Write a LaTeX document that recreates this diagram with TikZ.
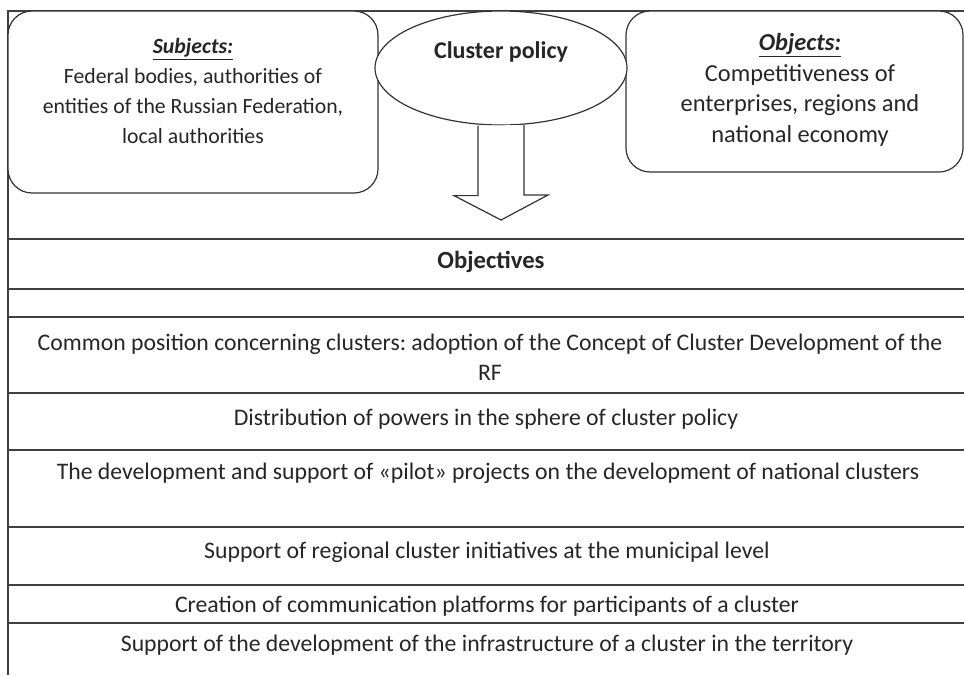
\documentclass[tikz,border=0pt]{standalone}
\usepackage{fontspec}
\setmainfont{Carlito}
\usepackage{tikz}
\usetikzlibrary{shapes.geometric,calc}
\frenchspacing

\begin{document}
\begin{tikzpicture}[x=0.75pt,y=-0.75pt,line width=0.9pt,
    topbox/.style={draw=black!80,fill=white,rounded corners=18pt,inner sep=0pt},
    boxtext/.style={align=center,text=black!85,font=\fontsize{16.3}{22.5}\selectfont},
    rowtext/.style={align=center,text=black!85,font=\fontsize{17.8}{22.5}\selectfont},
    rowline/.style={draw=black!75,line width=1.4pt}]

    \useasboundingbox (0,0) rectangle (964,675);

    \draw [rowline] (8,675) -- (8,11) -- (964,11);

    \node (subjects) [topbox,minimum width=277.5pt,minimum height=136.5pt] at (193,102) {};
    \node (objects)  [topbox,minimum width=252.75pt,minimum height=120.75pt] at (794.5,91.5) {};
    \node (policy)   [ellipse,draw=black!80,fill=white,minimum width=189pt,minimum height=85.5pt] at (501,68) {};

    \node (subjtext) [boxtext] at (193,91) {\textbf{\textit{\underline{Subjects:}}}\\
      Federal bodies, authorities of\\entities of the Russian Federation,\\local authorities};
    \node (objtext)  [boxtext,font=\fontsize{18.3}{23}\selectfont] at (800,90) {\textbf{\textit{\underline{Objects:}}}\\
      Competitiveness of\\enterprises, regions and\\national economy};
    \node (policytext) [text=black!85,font=\fontsize{18}{20}\selectfont\bfseries] at (501,52) {Cluster policy};

    \coordinate (tip) at (501,220);
    \draw [draw=black!80,fill=white] ($(policy.south)+(-23,0)$) -- ++(0,70) -- ++(-24,0)
      -- (tip) -- ++(47,-25) -- ++(-24,0) -- ++(0,-70);

    \foreach \y in {239,289,317,393,450,527,585,623}
      \draw [rowline] (8,\y) -- (964,\y);

    \node (objectives) [rowtext,font=\fontsize{18.5}{20}\selectfont\bfseries] at (491,262) {Objectives};
    \node (common)    [rowtext] at (490,357) {Common position concerning clusters: adoption of the Concept of Cluster Development of the\\RF};
    \node (powers)    [rowtext] at (486,419) {Distribution of powers in the sphere of cluster policy};
    \node (pilot)     [rowtext] at (488,473) {The development and support of «pilot» projects on the development of national clusters};
    \node (regional)  [rowtext] at (487,552) {Support of regional cluster initiatives at the municipal level};
    \node (platforms) [rowtext] at (487,606) {Creation of communication platforms for participants of a cluster};
    \node (infra)     [rowtext] at (487,645) {Support of the development of the infrastructure of a cluster in the territory};

\end{tikzpicture}
\end{document}
